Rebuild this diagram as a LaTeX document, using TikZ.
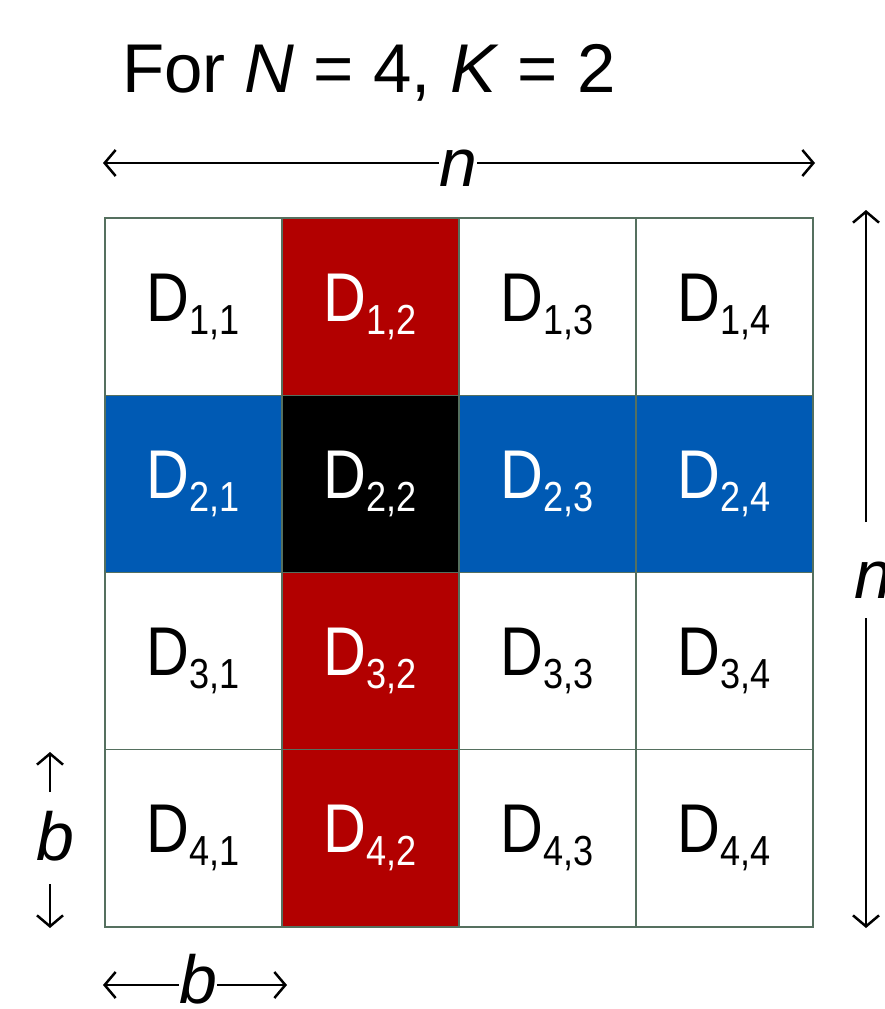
\documentclass[tikz,border=0pt]{standalone}
\usepackage{fontspec}
\setmainfont{Liberation Sans}
\newfontfamily\cellfont[FakeStretch=0.86]{Liberation Sans}
\usetikzlibrary{arrows.meta}
\definecolor{cred}{HTML}{B20000}
\definecolor{cblue}{HTML}{005AB4}
\definecolor{gridc}{HTML}{55705F}
\newcommand\dsub[1]{\raisebox{-13pt}{\fontsize{42}{42}\selectfont #1}}
\tikzset{
  cell/.style={draw=gridc, line width=1.3pt, minimum width=177pt, minimum height=177.25pt,
    inner sep=0pt, font=\cellfont\fontsize{69}{69}\selectfont},
  wcell/.style={cell, fill=white, text=black},
  rcell/.style={cell, fill=cred, text=white},
  bcell/.style={cell, fill=cblue, text=white},
  kcell/.style={cell, fill=black, text=white},
  arr/.style={-{Straight Barb[length=11pt,width=26pt,line width=2.5pt]}, line width=2.5pt},
  dimlbl/.style={inner sep=0pt, font=\itshape\fontsize{68}{68}\selectfont}
}
\begin{document}
\begin{tikzpicture}[x=1pt,y=-1pt]
\useasboundingbox (0,0) rectangle (885,1009);
% title
\node[anchor=base west, inner sep=0pt, font=\fontsize{69}{69}\selectfont] (title) at (122,92)
  {For \textit{N} = 4, \textit{K} = 2};
% grid
\foreach \r/\ca/\cb/\cc/\cd in {1/wcell/rcell/wcell/wcell, 2/bcell/kcell/bcell/bcell, 3/wcell/rcell/wcell/wcell, 4/wcell/rcell/wcell/wcell}{
  \node[\ca] (d\r1) at ({105+88.5}, {218+177.25*(\r-0.5)}) {D\dsub{\r,1}};
  \node[\cb] (d\r2) at ({105+177+88.5}, {218+177.25*(\r-0.5)}) {D\dsub{\r,2}};
  \node[\cc] (d\r3) at ({105+354+88.5}, {218+177.25*(\r-0.5)}) {D\dsub{\r,3}};
  \node[\cd] (d\r4) at ({105+531+88.5}, {218+177.25*(\r-0.5)}) {D\dsub{\r,4}};
}
% top n arrow
\coordinate (tl) at (103,163);
\coordinate (tr) at (815,163);
\node[dimlbl, anchor=base] (tn) at (458,186) {n};
\draw[arr] (tn.west |- tl) -- (tl);
\draw[arr] (tn.east |- tr) -- (tr);
% right n arrow
\coordinate (rt) at (866,210);
\coordinate (rb) at (866,928);
\node[dimlbl, anchor=base, minimum height=10pt] (rn) at (873,598) {n};
\coordinate (rnu) at (866,522);
\coordinate (rnd) at (866,618);
\draw[arr] (rnu) -- (rt);
\draw[arr] (rnd) -- (rb);
% left b arrow
\node[dimlbl, anchor=base] (lb) at (55,860) {b};
\coordinate (lt) at (50,752);
\coordinate (lbt) at (50,792);
\coordinate (lbb) at (50,884);
\coordinate (lbo) at (50,928);
\draw[arr] (lbt) -- (lt);
\draw[arr] (lbb) -- (lbo);
% bottom b arrow
\node[dimlbl, anchor=base] (bb) at (198,1003) {b};
\coordinate (bl) at (103,985);
\coordinate (br) at (287,985);
\draw[arr] (bb.west |- bl) -- (bl);
\draw[arr] (bb.east |- br) -- (br);
\end{tikzpicture}
\end{document}
